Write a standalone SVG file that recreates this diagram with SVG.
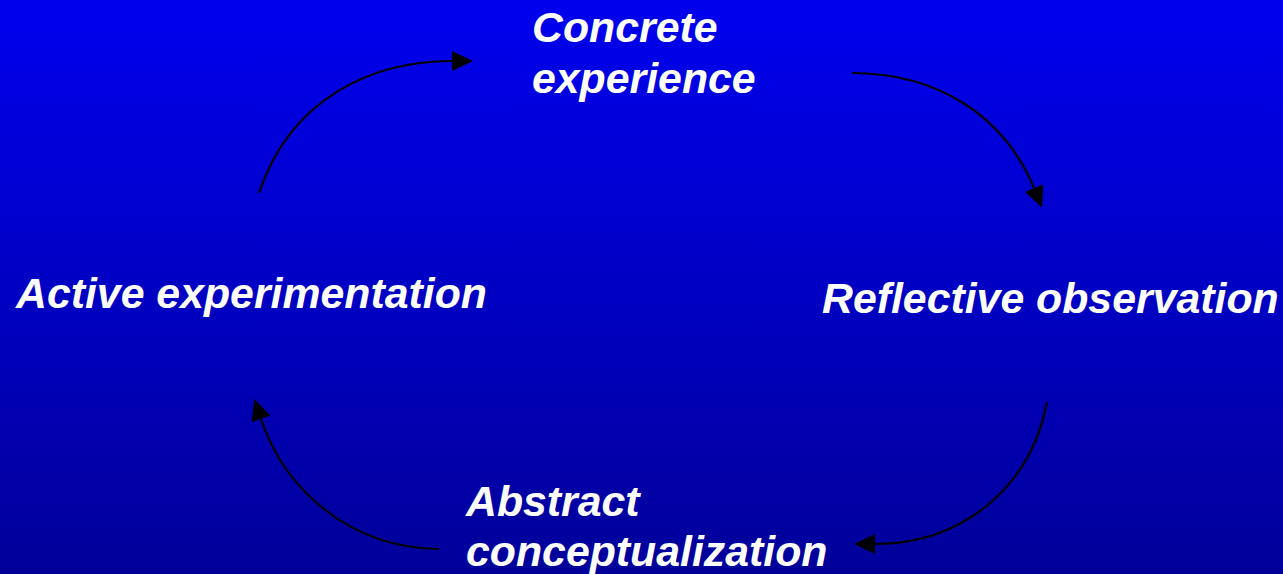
<svg xmlns="http://www.w3.org/2000/svg" width="1283" height="574" viewBox="0 0 1283 574">
  <defs>
    <linearGradient id="bg" x1="0" y1="0" x2="0" y2="1">
      <stop offset="0" stop-color="#0000EE"/>
      <stop offset="1" stop-color="#000099"/>
    </linearGradient>
    <marker id="arrow" viewBox="0 0 21 20" refX="0" refY="10" markerWidth="21" markerHeight="20" markerUnits="userSpaceOnUse" orient="auto">
      <path d="M0,0 L21,10 L0,20 Z" fill="#000"/>
    </marker>
  </defs>
  <style>
    .lbl { font-family: "Liberation Sans", Arial, sans-serif; font-size: 42.8px; font-weight: bold; font-style: italic; fill: #FFFFFF; }
    .conn { fill: none; stroke: #000; stroke-width: 2.2; marker-end: url(#arrow); }
  </style>
  <rect x="0" y="0" width="1283" height="574" fill="url(#bg)"/>
  <g id="connectors">
    <path class="conn" d="M259,193 C290,100 370,61 452,61"/>
    <path class="conn" d="M852,73 C940,73 1005,118 1034,188"/>
    <path class="conn" d="M1047,402 C1030,490 960,544 875,544"/>
    <path class="conn" d="M439,549 C350,548 285,490 261,419"/>
  </g>
  <g id="concrete-experience">
    <text class="lbl" x="532" y="42">Concrete</text>
    <text class="lbl" x="532" y="93">experience</text>
  </g>
  <g id="reflective-observation">
    <text class="lbl" x="822" y="313">Reflective observation</text>
  </g>
  <g id="abstract-conceptualization">
    <text class="lbl" x="466" y="516">Abstract</text>
    <text class="lbl" x="466" y="566">conceptualization</text>
  </g>
  <g id="active-experimentation">
    <text class="lbl" x="16" y="308">Active experimentation</text>
  </g>
</svg>
